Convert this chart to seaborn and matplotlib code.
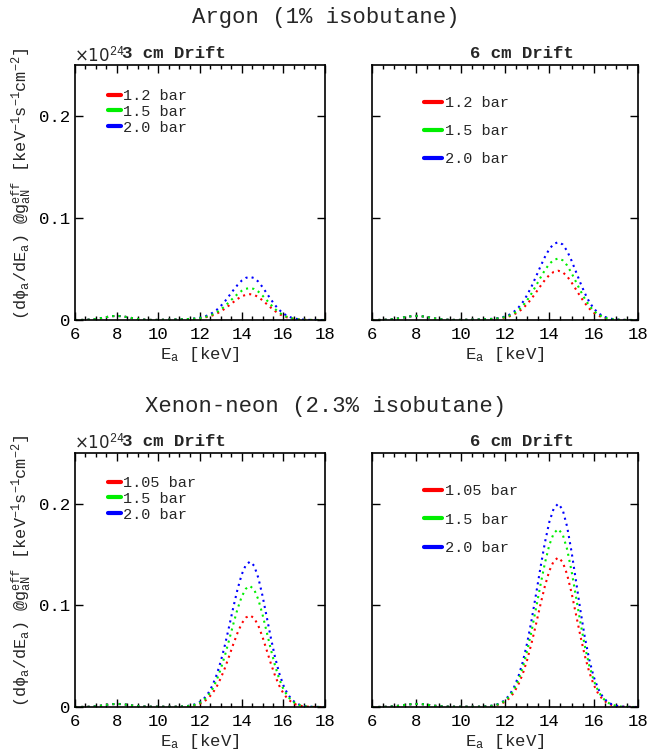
import numpy as np
import seaborn as sns
import matplotlib.pyplot as plt
from matplotlib.lines import Line2D
from matplotlib.ticker import MultipleLocator

# Energy bins (keV)
energy_kev = [6.0, 6.2, 6.4, 6.6, 6.8, 7.0, 7.2, 7.4, 7.6, 7.8, 8.0, 8.2, 8.4, 8.6, 8.8,
              9.0, 9.2, 9.4, 9.6, 9.8, 10.0, 10.2, 10.4, 10.6, 10.8, 11.0, 11.2, 11.4,
              11.6, 11.8, 12.0, 12.2, 12.4, 12.6, 12.8, 13.0, 13.2, 13.4, 13.6, 13.8,
              14.0, 14.2, 14.4, 14.6, 14.8, 15.0, 15.2, 15.4, 15.6, 15.8, 16.0, 16.2,
              16.4, 16.6, 16.8, 17.0, 17.2, 17.4, 17.6, 17.8, 18.0]

# Flux values in units of 1e-4 x 10^24 keV^-1 s^-1 cm^-2
# Argon, 3 cm drift
ar3_12 = [0, 0, 1, 3, 5, 10, 16, 24, 32, 38, 40, 38, 32, 24, 16, 10, 5, 3, 1, 1, 1, 2, 3, 4, 5, 6,
          8, 8, 10, 12, 17, 23, 33, 45, 62, 85, 112, 144, 175, 206, 232, 247, 253, 246, 225,
          193, 157, 121, 88, 59, 38, 24, 14, 8, 4, 2, 1, 0, 0, 0, 0]
ar3_15 = [0, 0, 1, 3, 5, 10, 16, 24, 32, 38, 40, 38, 32, 24, 16, 10, 5, 3, 1, 1, 1, 2, 3, 4, 5, 6,
          8, 9, 11, 14, 19, 27, 38, 54, 75, 103, 137, 177, 216, 254, 286, 306, 313, 304, 278,
          239, 195, 150, 108, 73, 47, 29, 17, 9, 5, 2, 1, 0, 0, 0, 0]
ar3_20 = [0, 0, 1, 3, 5, 10, 16, 24, 32, 38, 40, 38, 32, 24, 16, 10, 5, 3, 1, 1, 1, 2, 3, 4, 5, 6,
          8, 9, 12, 16, 23, 33, 48, 70, 99, 138, 184, 238, 292, 343, 386, 413, 423, 411, 376,
          323, 263, 202, 146, 99, 64, 39, 22, 12, 7, 3, 1, 1, 0, 0, 0]
# Argon, 6 cm drift
ar6_12 = [0, 0, 1, 3, 5, 10, 16, 24, 32, 38, 40, 38, 32, 24, 16, 10, 5, 3, 1, 1, 1, 2, 3, 4, 5, 6,
          8, 9, 13, 17, 25, 36, 54, 79, 113, 157, 210, 271, 333, 392, 441, 472, 483, 469, 429,
          369, 300, 230, 167, 113, 73, 44, 25, 14, 8, 3, 1, 1, 0, 0, 0]
ar6_15 = [0, 0, 1, 3, 5, 10, 16, 24, 32, 38, 40, 38, 32, 24, 16, 10, 5, 3, 1, 1, 1, 2, 3, 4, 5, 6,
          8, 10, 14, 19, 29, 43, 65, 96, 139, 194, 261, 337, 415, 489, 550, 589, 603, 586, 536,
          461, 375, 288, 208, 141, 90, 55, 32, 17, 9, 4, 2, 1, 0, 0, 0]
ar6_20 = [0, 0, 1, 3, 5, 10, 16, 24, 32, 38, 40, 38, 32, 24, 16, 10, 5, 3, 1, 1, 1, 2, 3, 4, 5, 6,
          9, 11, 15, 22, 34, 52, 80, 120, 174, 245, 330, 426, 525, 618, 696, 746, 763, 741, 678,
          583, 474, 364, 263, 178, 114, 69, 40, 22, 12, 5, 2, 1, 0, 0, 0]
# Xenon-neon, 3 cm drift
xe3_105 = [0, 0, 1, 2, 4, 7, 12, 18, 24, 28, 30, 29, 25, 19, 13, 9, 6, 4, 3, 3, 3, 3, 3, 3, 3, 3,
           5, 7, 12, 19, 33, 54, 88, 135, 200, 285, 386, 501, 619, 729, 821, 880, 901, 875, 800,
           690, 560, 429, 310, 211, 135, 82, 47, 25, 13, 6, 3, 1, 0, 0, 0]
xe3_15 = [0, 0, 1, 2, 4, 7, 12, 18, 24, 28, 30, 29, 25, 19, 13, 9, 6, 4, 3, 3, 3, 3, 3, 3, 3, 3,
          6, 9, 15, 24, 42, 71, 115, 178, 264, 376, 510, 661, 817, 964, 1085, 1164, 1191, 1156,
          1058, 911, 740, 567, 409, 278, 178, 108, 62, 33, 17, 8, 3, 1, 1, 0, 0]
xe3_20 = [0, 0, 1, 2, 4, 7, 12, 18, 24, 28, 30, 29, 25, 19, 13, 9, 6, 4, 3, 3, 3, 3, 3, 3, 3, 3,
          6, 10, 17, 29, 50, 85, 137, 213, 317, 451, 613, 794, 982, 1157, 1303, 1398, 1431, 1390,
          1271, 1095, 889, 682, 492, 334, 214, 130, 74, 40, 20, 9, 4, 2, 1, 0, 0]
# Xenon-neon, 6 cm drift
xe6_105 = [0, 0, 1, 2, 4, 7, 12, 18, 24, 28, 30, 29, 25, 19, 13, 9, 6, 4, 3, 3, 3, 3, 3, 3, 3, 3,
           7, 10, 17, 29, 52, 87, 141, 219, 325, 464, 630, 816, 1009, 1190, 1340, 1437, 1471,
           1428, 1306, 1126, 914, 701, 505, 344, 220, 133, 76, 41, 21, 10, 4, 2, 1, 0, 0]
xe6_15 = [0, 0, 1, 2, 4, 7, 12, 18, 24, 28, 30, 29, 25, 19, 13, 9, 6, 4, 3, 3, 3, 3, 3, 3, 3, 3,
          7, 12, 20, 35, 61, 103, 168, 260, 387, 552, 749, 972, 1201, 1416, 1595, 1711, 1751,
          1700, 1555, 1340, 1088, 834, 601, 409, 262, 159, 90, 48, 25, 12, 5, 2, 1, 0, 0]
xe6_20 = [0, 0, 1, 2, 4, 7, 12, 18, 24, 28, 30, 29, 25, 19, 13, 9, 6, 4, 3, 3, 3, 3, 3, 3, 3, 3,
          8, 13, 22, 39, 69, 117, 191, 297, 442, 630, 856, 1110, 1372, 1618, 1822, 1955, 2001,
          1943, 1777, 1531, 1243, 953, 687, 467, 299, 181, 103, 55, 28, 13, 6, 2, 1, 0, 0]

argon_labels = ['1.2 bar', '1.5 bar', '2.0 bar']
xenon_labels = ['1.05 bar', '1.5 bar', '2.0 bar']
colors = ['#ff0000', '#00ee00', '#0000ff']

sns.set_theme(style='white')
plt.rcParams['font.family'] = ['Liberation Mono', 'DejaVu Sans']
plt.rcParams['mathtext.fontset'] = 'custom'
plt.rcParams['mathtext.rm'] = 'Liberation Mono'
plt.rcParams['mathtext.it'] = 'Liberation Mono'
plt.rcParams['mathtext.bf'] = 'Liberation Mono:bold'

W, H = 651, 755
fig = plt.figure(figsize=(W / 100, H / 100), dpi=100)


def fx(x):
    return x / W


def fy(y):
    return 1 - y / H


def add_axes(x0, x1, y0, y1):
    return fig.add_axes([fx(x0), fy(y1), fx(x1) - fx(x0), (y1 - y0) / H])


panels = [
    # axes box px, series, labels, title centre, legend spec
    dict(box=(75, 325, 65, 320), series=[ar3_12, ar3_15, ar3_20], labels=argon_labels,
         title='3 cm Drift', tx=174, ty=54, left=True, leg=(108, 89), hl=0.85, ls=0.12),
    dict(box=(372, 638, 65, 320), series=[ar6_12, ar6_15, ar6_20], labels=argon_labels,
         title='6 cm Drift', tx=522, ty=54, left=False, leg=(424, 96), hl=1.2, ls=0.92),
    dict(box=(75, 325, 453, 707), series=[xe3_105, xe3_15, xe3_20], labels=xenon_labels,
         title='3 cm Drift', tx=174, ty=441, left=True, leg=(108, 476), hl=0.85, ls=0.12),
    dict(box=(372, 638, 453, 707), series=[xe6_105, xe6_15, xe6_20], labels=xenon_labels,
         title='6 cm Drift', tx=522, ty=442, left=False, leg=(424, 484), hl=1.2, ls=0.95),
]

x = np.array(energy_kev)
for p in panels:
    ax = add_axes(*p['box'])
    for vals, c in zip([p['series'][0], p['series'][2], p['series'][1]],
                       [colors[0], colors[2], colors[1]]):
        sns.lineplot(x=x, y=np.array(vals) / 10000.0, ax=ax, color=c,
                     linestyle=(0, (1, 2)), linewidth=1.5)
    ax.set_xlim(6, 18)
    ax.set_ylim(0, 0.25)
    ax.xaxis.set_major_locator(MultipleLocator(2))
    ax.xaxis.set_minor_locator(MultipleLocator(0.5))
    ax.set_yticks([0, 0.1, 0.2])
    ax.tick_params(which='both', direction='in', top=True, right=True, bottom=True, left=True,
                   colors='black', labelsize=12.5, width=1)
    ax.tick_params(which='major', length=6)
    ax.tick_params(which='minor', length=3)
    ax.tick_params(axis='x', pad=5)
    for s in ax.spines.values():
        s.set_color('black')
        s.set_linewidth(1.2)
    ax.set_xlabel('E$_\\mathrm{a}$ [keV]', fontsize=12.5, labelpad=2)
    if p['left']:
        ax.set_yticklabels(['0', '0.1', '0.2'])
        ax.set_ylabel('(d\u03d5$_\\mathrm{a}$/dE$_\\mathrm{a}$) @g$_\\mathrm{aN}^\\mathrm{eff}$ '
                      '[keV$^{-1}$s$^{-1}$cm$^{-2}$]', fontsize=12.2)
        ax.yaxis.set_label_coords(-0.165, 0.535)
        fig.text(fx(74), fy(p['ty'] + 1), '\u00d710$^{24}$', fontsize=12, ha='left', va='center',
                 family=['DejaVu Sans'])
    else:
        ax.set_yticklabels([])
        ax.set_ylabel('')
    fig.text(fx(p['tx']), fy(p['ty']), p['title'], fontsize=12.5, fontweight='bold',
             ha='center', va='center')
    handles = [Line2D([0], [0], color=c, lw=3) for c in colors]
    ax.legend(handles, p['labels'], loc='upper left', bbox_to_anchor=(fx(p['leg'][0]), fy(p['leg'][1])),
              bbox_transform=fig.transFigure, frameon=False, borderpad=0, borderaxespad=0,
              handlelength=p['hl'], handletextpad=0.15, labelspacing=p['ls'], fontsize=11)

fig.text(0.5, fy(17), 'Argon (1% isobutane)', fontsize=16, ha='center', va='center')
fig.text(0.5, fy(407), 'Xenon-neon (2.3% isobutane)', fontsize=16, ha='center', va='center')

fig.savefig('out.png', dpi=100)
